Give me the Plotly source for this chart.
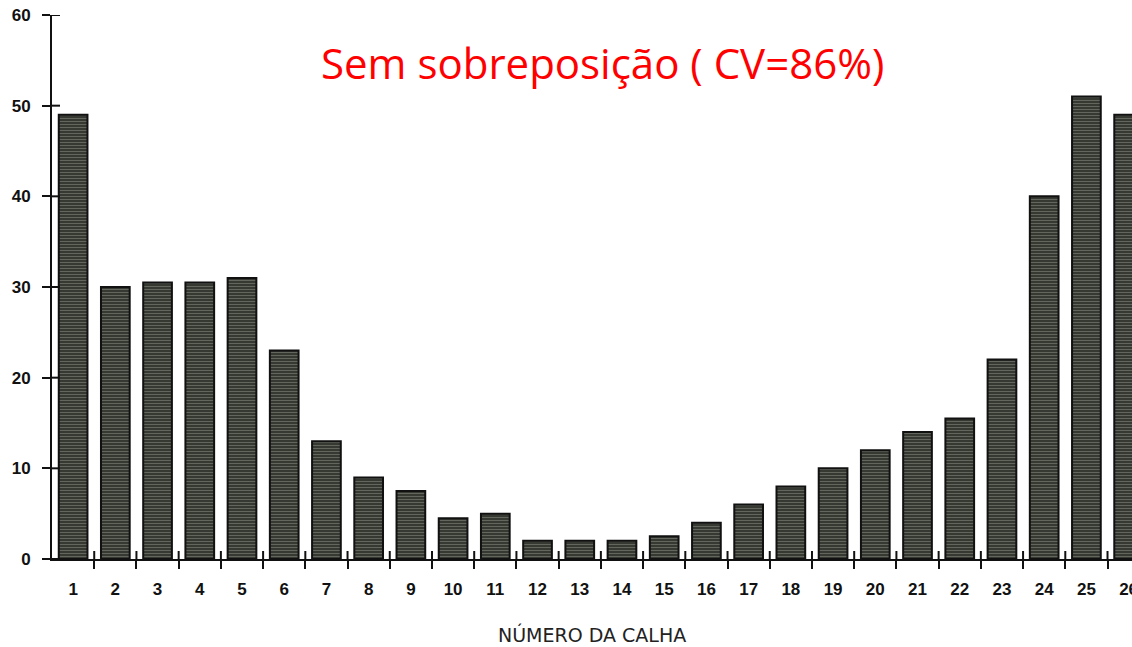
import plotly.graph_objects as go

# Número da calha (1..26) e valores medidos em cada calha
calhas = list(range(1, 27))
valores = [49, 30, 30.5, 30.5, 31, 23, 13, 9, 7.5, 4.5, 5, 2, 2, 2, 2.5, 4,
           6, 8, 10, 12, 14, 15.5, 22, 40, 51, 49]
y_ticks = [0, 10, 20, 30, 40, 50, 60]
x_labels = [str(c) for c in calhas]

titulo = "Sem sobreposição ( CV=86%)"
titulo_x = "NÚMERO DA CALHA"

# divisões entre calhas, onde ficam as marcas do eixo x
divisoes = [c + 0.5 for c in calhas[:-1]]

fig = go.Figure()
fig.add_trace(go.Bar(
    x=calhas,
    y=valores,
    width=0.68,
    marker=dict(
        color="#363932",
        line=dict(color="#111111", width=2),
        pattern=dict(shape="-", fgcolor="#979d90", size=3,
                     solidity=0.3, fillmode="overlay"),
    ),
    showlegend=False,
))

# Parte interna das marcas (a parte externa vem do próprio eixo)
shapes = []
for d in divisoes:
    shapes.append(dict(type="line", xref="x", yref="y", ysizemode="pixel",
                       yanchor=0, x0=d, x1=d, y0=0, y1=8,
                       line=dict(color="#111111", width=2)))
for v in y_ticks:
    shapes.append(dict(type="line", xref="x", yref="y", xsizemode="pixel",
                       xanchor=0.5, x0=0, x1=8, y0=v, y1=v,
                       line=dict(color="#111111", width=2)))

tick_font = dict(family="Liberation Sans Narrow, Liberation Sans", size=17,
                 color="#111111", weight="bold")

fig.update_layout(
    width=1132, height=647,
    margin=dict(l=52, r=0, t=15, b=88, autoexpand=False),
    paper_bgcolor="white", plot_bgcolor="white",
    shapes=shapes,
    xaxis=dict(
        range=[0.5, 26.08], tickmode="array", tickvals=calhas,
        ticktext=x_labels, ticks="", showgrid=False, zeroline=False,
        showline=True, linecolor="#111111", linewidth=2,
        tickfont=tick_font, ticklabelstandoff=14,
        ticklabeloverflow="allow", automargin=False,
        minor=dict(tickmode="array", tickvals=divisoes, ticks="outside",
                   ticklen=8, tickwidth=2, tickcolor="#111111"),
    ),
    yaxis=dict(
        range=[0, 60], tickmode="array", tickvals=y_ticks,
        ticks="outside", ticklen=8, tickwidth=2, tickcolor="#111111",
        showgrid=False, zeroline=False, showline=True,
        linecolor="#111111", linewidth=2, tickfont=tick_font,
        ticklabelstandoff=8, automargin=False,
    ),
    annotations=[
        dict(text=titulo, xref="paper", yref="paper", x=0.5097, y=0.9136,
             xanchor="center", yanchor="middle", showarrow=False,
             font=dict(family="Open Sans", size=42, color="#ff0000")),
        dict(text=titulo_x, xref="paper", yref="paper", x=0.5, y=-0.1397,
             xanchor="center", yanchor="middle", showarrow=False,
             font=dict(family="DejaVu Sans", size=19, color="#222222")),
    ],
)

fig.write_html("out.html")
